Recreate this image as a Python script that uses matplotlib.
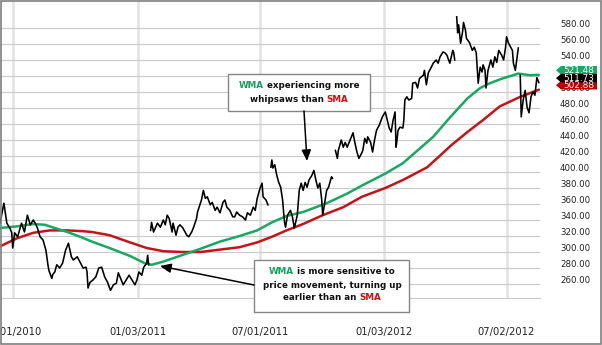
import numpy as np
import matplotlib
matplotlib.use("Agg")
import matplotlib.pyplot as plt
from matplotlib import patches, transforms

nan = np.nan

# Daily closes, indexed by trading session counted from 2010-06-14
close_session = [
    0, 4, 7, 10, 12, 13, 15, 18, 22, 25, 28, 31, 34, 36, 38, 41, 44, 47, 49, 50,
    53, 54, 56, 58, 61, 64, 67, 70, 73, 75, 79, 82, 85, 88, 89, 90, 92, 95, 98, 101,
    104, 107, 110, 113, 116, 119, 121, 124, 126, 130, 132, 135, 138, 140, 142, 145, 147, 150, 151, 152,
    153, 154, 155, 157, 161, 164, 167, 169, 171, 173, 176, 177, 180, 182, 184, 187, 191, 193, 196, 198,
    201, 202, 206, 208, 210, 212, 215, 217, 220, 222, 225, 228, 230, 232, 235, 238, 240, 242, 245, 248,
    251, 253, 256, 259, 261, 263, 266, 268, 269, 272, 274, 276, 277, 278, 279, 281, 283, 285, 287, 289,
    290, 291, 292, 294, 297, 299, 301, 304, 306, 308, 310, 312, 314, 316, 319, 321, 323, 325, 327, 329,
    330, 332, 334, 336, 339, 340, 341, 343, 345, 346, 349, 351, 353, 355, 358, 361, 363, 365, 367, 370,
    371, 373, 375, 376, 379, 381, 383, 385, 388, 391, 394, 396, 398, 400, 402, 404, 405, 406, 407, 409,
    412, 413, 414, 416, 418, 421, 422, 425, 427, 429, 433, 434, 436, 438, 441, 443, 446, 448, 450, 453,
    455, 457, 460, 463, 464, 465, 466, 467, 468, 469, 471, 473, 474, 476, 477, 480, 483, 485, 487, 488,
    489, 491, 493, 494, 496, 497, 499, 502, 504, 506, 508, 510, 513, 515, 517, 518, 520, 524, 525, 527,
    529, 530, 531, 532, 533, 535, 537, 539, 541, 543, 545, 547, 549, 551,
]
close = [
    336, 361, 336, 330, 324, 305, 324, 319, 336, 325, 346, 334, 340, 336, 331, 319, 315, 302, 284, 277,
    267, 272, 275, 284, 280, 286, 302, 311, 294, 290, 294, 287, 280, 281, 275, 255, 262, 265, 269, 280,
    281, 269, 262, 252, 259, 261, 274, 265, 259, 267, 271, 265, 259, 265, 275, 271, 281, 286, 296, 284,
    nan, 327, 337, 325, 336, 331, 340, 334, 346, 342, 325, 336, 321, 331, 334, 330, 321, 319, 325, 331,
    342, 350, 365, 377, 367, 369, 359, 362, 352, 356, 349, 362, 365, 356, 352, 344, 344, 350, 346, 344,
    340, 349, 346, 356, 352, 367, 380, 386, 369, 365, 359, nan, 406, 415, 405, 409, 396, 387, 381, 365,
    350, 337, 331, 346, 352, 344, 330, 346, 377, 386, 377, 387, 381, 390, 396, 402, 390, 380, 386, 365,
    346, 361, 377, 381, 394, 392, nan, 427, 417, 427, 440, 431, 437, 431, 440, 449, 436, 425, 417, 424,
    427, 442, 436, 444, 437, 425, 440, 452, 459, 469, 475, 465, 455, 450, 465, 475, 431, 440, 452, 456,
    455, 465, 490, 494, 490, 492, 511, 512, 505, 517, 521, 527, 509, 524, 531, 536, 540, 536, 544, 550,
    549, 546, 536, 552, 549, 540, nan, 594, 574, 584, 561, 575, 587, 577, 567, 562, 552, 556, 549, 531,
    511, 531, 525, 534, 527, 505, 527, 540, 531, 544, 537, 552, 546, 540, 556, 569, 561, 552, 536, 527,
    546, 555, nan, 521, 469, 490, 502, 481, 474, 494, 500, 496, 518, 511.73,
]

# Weighted moving average
wma_session = [0, 17, 34, 46, 56, 69, 82, 94, 112, 133, 148, 155, 167, 186, 205, 225, 245, 263,
               278, 293, 310, 334, 355, 370, 394, 412, 427, 443, 460, 478, 491, 501, 514, 530, 542, 551]
wma = [330, 332, 335, 334, 330, 325, 319, 313, 305, 295, 286, 284, 288, 296, 304, 313, 320, 327,
       337, 345, 350, 361, 373, 383, 398, 411, 427, 444, 468, 492, 505, 511, 517, 523, 521, 521.48]

# Simple moving average
sma_session = [0, 17, 34, 51, 69, 85, 94, 112, 133, 150, 167, 186, 205, 225, 245, 263, 278, 293,
               310, 330, 351, 370, 394, 412, 437, 462, 478, 494, 511, 532, 551]
sma = [307, 317, 324, 327, 327, 326, 325, 321, 312, 305, 301, 300, 300, 303, 306, 312, 319, 327,
       335, 346, 356, 369, 380, 390, 406, 434, 450, 465, 482, 494, 502.88]

last_values = {"wma": 521.48, "close": 511.73, "sma": 502.88}

start_date = "2010-06-14"
market_holidays = [
    "2010-07-05", "2010-09-06", "2010-11-25", "2010-12-24", "2011-01-17", "2011-02-21",
    "2011-04-22", "2011-05-30", "2011-07-04", "2011-09-05", "2011-11-24", "2011-12-26",
    "2012-01-02", "2012-01-16", "2012-02-20", "2012-04-06", "2012-05-28", "2012-07-04",
]
tick_dates = ["2010-07-01", "2011-01-03", "2011-07-01", "2012-01-03", "2012-07-02"]
tick_labels = ["07/01/2010", "01/03/2011", "07/01/2011", "01/03/2012", "07/02/2012"]
price_ticks = np.arange(260, 581, 20)

GREEN = "#17a862"
RED = "#c3141a"
GREEN_TXT = "#14a05e"
RED_TXT = "#d10f0f"

W, H = 602, 345
fig = plt.figure(figsize=(W / 100, H / 100), dpi=100)
ax = fig.add_axes([0, 1 - 298 / H, 540 / W, 298 / H])

ax.plot(sma_session, sma, color=RED, lw=1.8, zorder=2, solid_capstyle="round")
ax.plot(wma_session, wma, color=GREEN, lw=1.8, zorder=2, solid_capstyle="round")
ax.plot(close_session, close, color="black", lw=1.15, zorder=3)

ax.set_xlim(0, 552.2)
ax.set_ylim(242.5, 615)

tick_pos = np.busday_count(start_date, tick_dates, holidays=market_holidays)
ax.set_xticks(tick_pos)
ax.set_xticklabels(tick_labels)
ax.set_yticks(price_ticks)
ax.set_yticklabels([f"{v:.2f}" for v in price_ticks])
ax.yaxis.tick_right()
ax.tick_params(axis="y", length=0, pad=14.4, labelsize=6.2, labelcolor="#222222")
ax.tick_params(axis="x", length=0, pad=21, labelsize=7.2, labelcolor="#222222")

ax.grid(axis="y", color="#c9c9c9", lw=0.8)
ax.grid(axis="x", color="#e2e2e2", lw=1.8)
ax.set_axisbelow(True)
for side in ("top", "left", "right"):
    ax.spines[side].set_visible(False)
ax.spines["bottom"].set_color("#c9c9c9")
ax.spines["bottom"].set_linewidth(0.8)

# price labels sit slightly above their grid lines
lift = transforms.ScaledTranslation(0, 4.5 / 100, fig.dpi_scale_trans)
for lab in ax.yaxis.get_ticklabels(which="major"):
    lab.set_transform(lab.get_transform() + lift)

ident = transforms.IdentityTransform()


def fx(x, y):
    """figure fraction from pixel coordinates measured from the top-left"""
    return x / W, 1 - y / H


# last-value tags on the price scale
def value_tag(value, color):
    yd = ax.transData.transform((0, value))[1] + 4.5
    tip, body, right, hh = 556, 561, 597, 4.3
    poly = patches.Polygon(
        [(tip, yd), (body, yd + hh), (right, yd + hh), (right, yd - hh), (body, yd - hh)],
        closed=True, fc=color, ec="none", transform=ident, zorder=5,
    )
    fig.add_artist(poly)
    fig.text(563 / W, yd / H, f"{value:.2f}", color="white", fontsize=6.4,
             va="center", ha="left", zorder=6)


value_tag(last_values["wma"], GREEN)
value_tag(last_values["sma"], "#c00000")
value_tag(last_values["close"], "black")

renderer = fig.canvas.get_renderer()


def rich_line(parts, cx, cy, size=6.3):
    items = []
    for s, c in parts:
        t = fig.text(0, 0, s, color=c, fontsize=size, fontweight="bold",
                     ha="left", va="center", zorder=8)
        items.append((t, t.get_window_extent(renderer).width))
    x = cx - sum(w for _, w in items) / 2
    for t, w in items:
        t.set_position(fx(x, cy))
        x += w


def note_box(x0, y0, x1, y1):
    r = patches.Rectangle(fx(x0, y1), (x1 - x0) / W, (y1 - y0) / H,
                          transform=fig.transFigure, fc="white", ec="#858585",
                          lw=1.0, zorder=7)
    fig.add_artist(r)


def arrow(p0, p1):
    a = patches.FancyArrowPatch(fx(*p0), fx(*p1), transform=fig.transFigure,
                                arrowstyle="-|>,head_length=0.65,head_width=0.28",
                                mutation_scale=10, lw=1.1, color="black",
                                shrinkA=0, shrinkB=0, zorder=7)
    fig.add_artist(a)


note_box(228, 74, 370, 111)
rich_line([("WMA", GREEN_TXT), (" experiencing more", "#111111")], 299, 86)
rich_line([("whipsaws than ", "#111111"), ("SMA", RED_TXT)], 299, 99)
arrow((304, 111), (307, 161))

note_box(254, 260, 409, 312)
rich_line([("WMA", GREEN_TXT), (" is more sensitive to", "#111111")], 332, 272)
rich_line([("price movement, turning up", "#111111")], 332, 285)
rich_line([("earlier than an ", "#111111"), ("SMA", RED_TXT)], 332, 297)
arrow((254, 285), (160, 266))

fig.add_artist(patches.Rectangle((0.75, 0.75), W - 1.5, H - 1.5, transform=ident,
                                 fill=False, ec="#7f7f7f", lw=1.2, zorder=10))

fig.savefig("out.png", dpi=100)
